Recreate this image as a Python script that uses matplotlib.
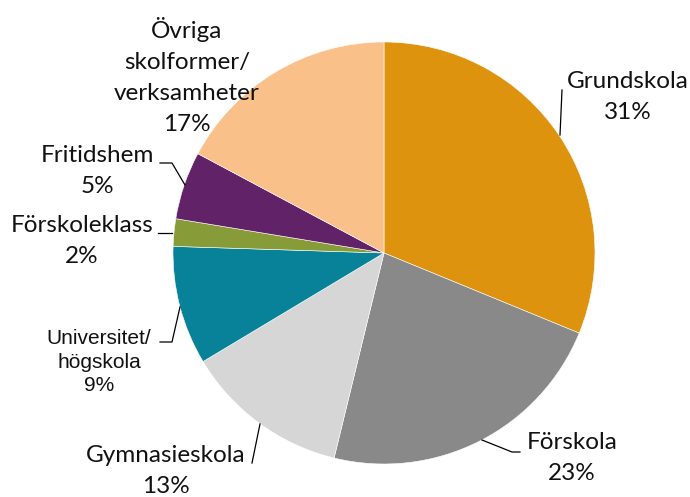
import matplotlib
matplotlib.use("Agg")
from matplotlib import pyplot as plt

# data, clockwise from 12 o'clock
categories = ["Grundskola", "Förskola", "Gymnasieskola", "Universitet/\nhögskola",
              "Förskoleklass", "Fritidshem", "Övriga\nskolformer/\nverksamheter"]
shares = [31.2, 22.6, 12.6, 9.1, 2.1, 5.2, 17.2]
colors = ["#DE930F", "#898989", "#D6D6D6", "#088299", "#879C38", "#622268", "#FAC08A"]

W, H = 690, 497
fig = plt.figure(figsize=(W / 100, H / 100), dpi=100)
ax = fig.add_axes([0, 0, 1, 1])


def px(x, y):
    # image pixel (top-left origin) -> data coords
    return x, H - y


ax.pie(shares, colors=colors, startangle=90, counterclock=False,
       center=px(384, 253), radius=211,
       wedgeprops=dict(edgecolor="white", linewidth=0.4))
ax.set_xlim(0, W)
ax.set_ylim(0, H)
ax.set_aspect("equal")
ax.axis("off")

# label centres and leader lines in pixel space
label_pos = [(628, 97), (572, 458), (166, 471), (99, 362),
             (82, 241), (97, 171), (187, 76)]
leaders = [
    [(562, 90), (560, 135)],
    [(520, 452), (512, 452), (482, 440)],
    [(252, 463), (260, 424)],
    [(160, 342), (172, 342), (180, 307)],
    [(158, 233), (172, 233)],
    [(160, 163), (172, 163), (185, 185)],
]

for i, (name, val) in enumerate(zip(categories, shares)):
    txt = "{0}\n{1:.0f}%".format(name, val)
    x, y = px(*label_pos[i])
    if name.startswith("Universitet"):
        ax.text(x, y, txt, ha="center", va="center", fontsize=15,
                family="Liberation Sans", linespacing=1.3, color="#111111")
    else:
        ax.text(x, y, txt, ha="center", va="center", fontsize=17.5,
                family="Lato", linespacing=1.6, color="#111111")

for pts in leaders:
    xs = [p[0] for p in pts]
    ys = [H - p[1] for p in pts]
    ax.plot(xs, ys, color="black", linewidth=0.9)

fig.savefig("out.png", dpi=100)
